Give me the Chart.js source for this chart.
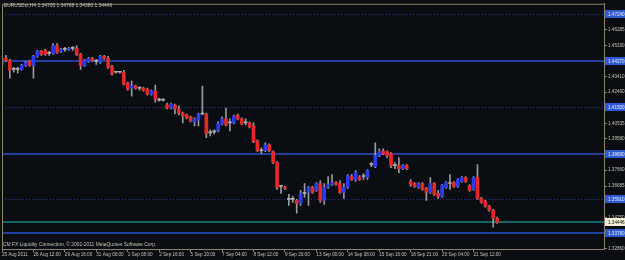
<!DOCTYPE html>
<html>
<head>
<meta charset="utf-8">
<script src="https://cdn.jsdelivr.net/npm/chart.js@4.4.1/dist/chart.umd.min.js"></script>
<style>
html,body{margin:0;padding:0;background:#0a0d12;}
#wrap{width:625px;height:260px;}
</style>
</head>
<body>
<div id="wrap"><canvas id="c" width="625" height="260"></canvas></div>
<script>
// ---- data (EURUSD H4) ----
const openP = [1.44167,1.44533,1.44411,1.43861,1.43861,1.43861,1.44105,1.44350,1.44105,1.44655,
1.44960,1.45021,1.44838,1.44838,1.45326,1.44960,1.45082,1.45082,1.45143,1.45143,
1.44777,1.44105,1.44350,1.44533,1.44350,1.44289,1.44655,1.44533,1.44044,1.43678,
1.43678,1.43678,1.43007,1.42702,1.42824,1.42702,1.42702,1.42641,1.42335,1.42518,
1.41969,1.41969,1.41664,1.41481,1.41664,1.41420,1.41176,1.41053,1.40931,1.40626,
1.40748,1.41115,1.41115,1.39955,1.40016,1.40077,1.40504,1.40809,1.40565,1.40565,
1.41053,1.40809,1.40565,1.40565,1.40382,1.39466,1.38856,1.38856,1.39222,1.38795,
1.38124,1.36659,1.36598,1.35865,1.35865,1.35804,1.35621,1.36231,1.36292,1.36598,
1.36414,1.36842,1.35804,1.36598,1.36781,1.36903,1.36842,1.36292,1.36598,1.37269,
1.37086,1.37208,1.37269,1.37208,1.38001,1.37879,1.38551,1.38856,1.38795,1.38673,
1.37940,1.37940,1.37757,1.37940,1.36964,1.36842,1.36598,1.36842,1.36537,1.36292,
1.36842,1.36231,1.36048,1.36598,1.36842,1.36903,1.36659,1.36964,1.37208,1.36720,
1.36475,1.37208,1.35926,1.35743,1.35438,1.35194,1.34705];
const highP = [1.44655,1.44716,1.44472,1.43983,1.43983,1.44167,1.44350,1.44411,1.44716,1.45021,
1.45021,1.45082,1.44960,1.45448,1.45448,1.45143,1.45204,1.45204,1.45265,1.45326,
1.44838,1.44472,1.44594,1.44594,1.44472,1.44716,1.44716,1.44655,1.44105,1.43739,
1.43739,1.43800,1.43068,1.43129,1.42885,1.42763,1.42763,1.42702,1.42579,1.42885,
1.42091,1.42030,1.41786,1.41786,1.41725,1.41603,1.41237,1.41115,1.40992,1.40870,
1.41176,1.42824,1.41176,1.40138,1.40138,1.40626,1.40931,1.41481,1.40809,1.41053,
1.41115,1.40870,1.40809,1.40626,1.40565,1.39527,1.39039,1.39344,1.39283,1.38856,
1.38185,1.36720,1.36659,1.36170,1.36048,1.35865,1.36414,1.36842,1.36659,1.36659,
1.36903,1.37025,1.36842,1.37269,1.37391,1.36964,1.37025,1.36842,1.37391,1.37391,
1.37635,1.37330,1.37452,1.37696,1.38124,1.39344,1.38978,1.38978,1.38856,1.38734,
1.38124,1.38429,1.38001,1.38001,1.37086,1.36903,1.36903,1.36903,1.36598,1.37208,
1.36903,1.36414,1.36781,1.36964,1.37391,1.36964,1.37147,1.37269,1.37269,1.36781,
1.37269,1.38001,1.35987,1.35804,1.35499,1.35255,1.34768];
const lowP = [1.44105,1.44350,1.43312,1.43678,1.43617,1.43800,1.44044,1.44044,1.43312,1.44594,
1.44716,1.44716,1.44716,1.44777,1.44838,1.44899,1.44960,1.45021,1.45021,1.44716,
1.43861,1.44044,1.44289,1.44350,1.44167,1.44228,1.44472,1.43922,1.43495,1.43617,
1.43617,1.42885,1.42579,1.42213,1.42641,1.42579,1.42518,1.42274,1.42274,1.41847,
1.41908,1.41908,1.41420,1.41420,1.41115,1.41053,1.40565,1.40809,1.40626,1.40382,
1.40382,1.41053,1.39650,1.39772,1.39894,1.40016,1.40443,1.40382,1.40077,1.40504,
1.40748,1.40443,1.40443,1.40260,1.39344,1.38795,1.38673,1.38795,1.38795,1.38063,
1.36475,1.36231,1.36475,1.35499,1.35682,1.35011,1.35499,1.35987,1.35499,1.36231,
1.36353,1.35682,1.35560,1.36537,1.36720,1.36720,1.36231,1.35926,1.36537,1.37025,
1.36964,1.37025,1.37086,1.37086,1.37879,1.37818,1.38490,1.38612,1.38429,1.37818,
1.37757,1.37513,1.37696,1.37696,1.36659,1.36598,1.36537,1.36414,1.35804,1.36231,
1.36109,1.35926,1.35987,1.36537,1.36475,1.36598,1.36598,1.36903,1.36903,1.36353,
1.36414,1.35865,1.35621,1.35377,1.35133,1.34156,1.34380];
const closeP = [1.44533,1.44411,1.43800,1.43861,1.43861,1.44105,1.44289,1.44105,1.44655,1.44960,
1.44777,1.44777,1.44838,1.45326,1.44899,1.45082,1.45082,1.45143,1.45143,1.44777,
1.44105,1.44411,1.44533,1.44411,1.44350,1.44655,1.44533,1.43983,1.43556,1.43678,
1.43678,1.42946,1.42641,1.42824,1.42702,1.42702,1.42579,1.42335,1.42518,1.42030,
1.41969,1.41969,1.41481,1.41725,1.41420,1.41176,1.40992,1.40870,1.40687,1.40809,
1.41115,1.41115,1.39894,1.39955,1.40016,1.40504,1.40809,1.40443,1.40565,1.40992,
1.40809,1.40504,1.40565,1.40321,1.39405,1.38856,1.38856,1.39222,1.38856,1.38124,
1.36598,1.36659,1.36537,1.35865,1.35865,1.35621,1.36231,1.36231,1.36598,1.36292,
1.36842,1.35804,1.36598,1.36781,1.36903,1.36781,1.36292,1.36598,1.37330,1.37086,
1.37513,1.37086,1.37269,1.37635,1.38001,1.38551,1.38795,1.38673,1.38551,1.37940,
1.37940,1.37757,1.37940,1.37757,1.36781,1.36659,1.36842,1.36475,1.36292,1.36842,
1.36170,1.36048,1.36720,1.36903,1.36842,1.36659,1.37086,1.37208,1.36964,1.36414,
1.37208,1.35926,1.35682,1.35438,1.35194,1.34705,1.34446];

const xTickIndex = [0,8,16,24,32,40,48,56,64,72,80,88,96,104,112,120];
const xTickLabels = ["25 Aug 2011","26 Aug 12:00","29 Aug 16:00","31 Aug 00:00","1 Sep 08:00","2 Sep 16:00",
"5 Sep 20:00","7 Sep 04:00","8 Sep 12:00","9 Sep 20:00","13 Sep 00:00","14 Sep 08:00","15 Sep 16:00",
"18 Sep 21:00","20 Sep 04:00","21 Sep 12:00"];
const yTickLabels = ["1.46285","1.45330","1.44375","1.43410","1.42460","1.41505","1.40535","1.39580",
"1.38620","1.37660","1.36685","1.35730","1.34750","1.33795","1.32860"];
const solidLevels = [1.44370, 1.38680, 1.33780];
const dottedLevels = [1.47240, 1.41550, 1.35910];
const bidLevel = 1.34446;
const headerText = "EURUSDct,H4 1.34705 1.34768 1.34380 1.34446";
const footerText = "CM FX Liquidity Connection, \u00a9 2001-2011 MetaQuotes Software Corp.";

// ---- styles ----
const BG = '#0a0d12', AX = '#8c826e', TXT = '#c4c4b4';
const BULL = '#2a3cf0', BEAR = '#e62828', DOJI = '#b0b0b0', WICK = '#9a9a9a';
const FONT = '"Liberation Sans", Arial, sans-serif';

const bodyColors = openP.map((o,i)=> closeP[i] > o ? BULL : (closeP[i] < o ? BEAR : DOJI));

const fmt = v => v.toFixed(5);

const overlay = {
  id: 'mt4',
  beforeDraw(chart) {
    const c = chart.ctx;
    c.save(); c.fillStyle = BG; c.fillRect(0,0,chart.width,chart.height); c.restore();
  },
  beforeDatasetsDraw(chart) {
    const c = chart.ctx, a = chart.chartArea, y = chart.scales.y;
    c.save();
    c.beginPath(); c.rect(a.left, a.top, a.right-a.left, a.bottom-a.top); c.clip();
    c.strokeStyle = '#203c96'; c.lineWidth = 1; c.setLineDash([1,2]);
    dottedLevels.forEach(v => { const py = Math.round(y.getPixelForValue(v))+0.5;
      c.beginPath(); c.moveTo(a.left, py); c.lineTo(a.right, py); c.stroke(); });
    c.setLineDash([]);
    c.strokeStyle = '#223fa0'; c.lineWidth = 2;
    solidLevels.forEach(v => { const py = Math.round(y.getPixelForValue(v));
      c.beginPath(); c.moveTo(a.left, py); c.lineTo(a.right, py); c.stroke(); });
    c.strokeStyle = '#108585'; c.lineWidth = 1.5;
    const by = Math.round(y.getPixelForValue(bidLevel));
    c.beginPath(); c.moveTo(a.left, by); c.lineTo(a.right, by); c.stroke();
    c.restore();
  },
  afterDraw(chart) {
    const c = chart.ctx, a = chart.chartArea, y = chart.scales.y;
    c.save();
    c.strokeStyle = AX; c.lineWidth = 1;
    c.beginPath(); c.moveTo(a.left+0.5, a.bottom); c.lineTo(a.left+0.5, a.top+0.5); c.lineTo(a.right, a.top+0.5); c.stroke();
    c.font = '4.6px ' + FONT; c.textBaseline = 'middle'; c.textAlign = 'left';
    const lab = (v, bg, fg) => { const py = Math.round(y.getPixelForValue(v));
      c.fillStyle = bg; c.fillRect(a.right+1, py-4, 625-a.right-1, 8);
      c.fillStyle = fg; c.fillText(fmt(v), a.right+4, py+0.5); };
    dottedLevels.forEach(v => lab(v, '#2f5bd0', '#e8ecff'));
    solidLevels.forEach(v => lab(v, '#2f5bd0', '#e8ecff'));
    lab(bidLevel, '#f2f0d2', '#101010');
    c.fillStyle = TXT; c.font = '4.9px ' + FONT; c.textBaseline = 'middle';
    c.fillText(headerText, 4, 6);
    c.fillText(footerText, 3, 245);
    c.restore();
  }
};

new Chart(document.getElementById('c'), {
  type: 'bar',
  data: {
    datasets: [
      { label: 'wick', data: openP.map((o,i)=>({x:i, y:[lowP[i], highP[i]]})),
        backgroundColor: WICK, barThickness: 1, minBarLength: 1, order: 2 },
      { label: 'body', data: openP.map((o,i)=>({x:i, y:[o, closeP[i]]})),
        backgroundColor: bodyColors, barThickness: 3, minBarLength: 1, order: 1 }
    ]
  },
  options: {
    responsive: false, animation: false,
    devicePixelRatio: 1,
    layout: { padding: { left: 2, top: 2, right: 0, bottom: 0 } },
    datasets: { bar: { grouped: false } },
    plugins: { legend: { display: false }, tooltip: { enabled: false } },
    scales: {
      x: {
        type: 'linear', offset: false, min: 0, max: 153.2,
        grid: { offset: false, drawOnChartArea: false, drawTicks: true, tickLength: 3, color: AX },
        border: { display: true, color: AX },
        ticks: { autoSkip: false, maxRotation: 0, minRotation: 0, align: 'start', padding: 0,
          color: TXT, font: { size: 4.6, family: FONT },
          callback: (v) => { const k = xTickIndex.indexOf(v); return k >= 0 ? xTickLabels[k] : ''; } },
        afterBuildTicks: s => { s.ticks = xTickIndex.map(v => ({ value: v })); },
        afterFit: s => { s.height = 11; }
      },
      y: {
        position: 'right', beginAtZero: false, min: 1.32813, max: 1.47890,
        grid: { drawOnChartArea: false, drawTicks: true, tickLength: 3, color: AX },
        border: { display: true, color: AX },
        ticks: { padding: 1, color: TXT, font: { size: 4.6, family: FONT },
          callback: (v) => { const k = yTickLabels.findIndex(t => Math.abs(parseFloat(t) - v) < 1e-7); return k >= 0 ? yTickLabels[k] : ''; } },
        afterBuildTicks: s => { s.ticks = yTickLabels.map(t => ({ value: parseFloat(t) })); },
        afterFit: s => { s.height; s.width = 21; }
      }
    }
  },
  plugins: [overlay]
});
</script>
</body>
</html>
